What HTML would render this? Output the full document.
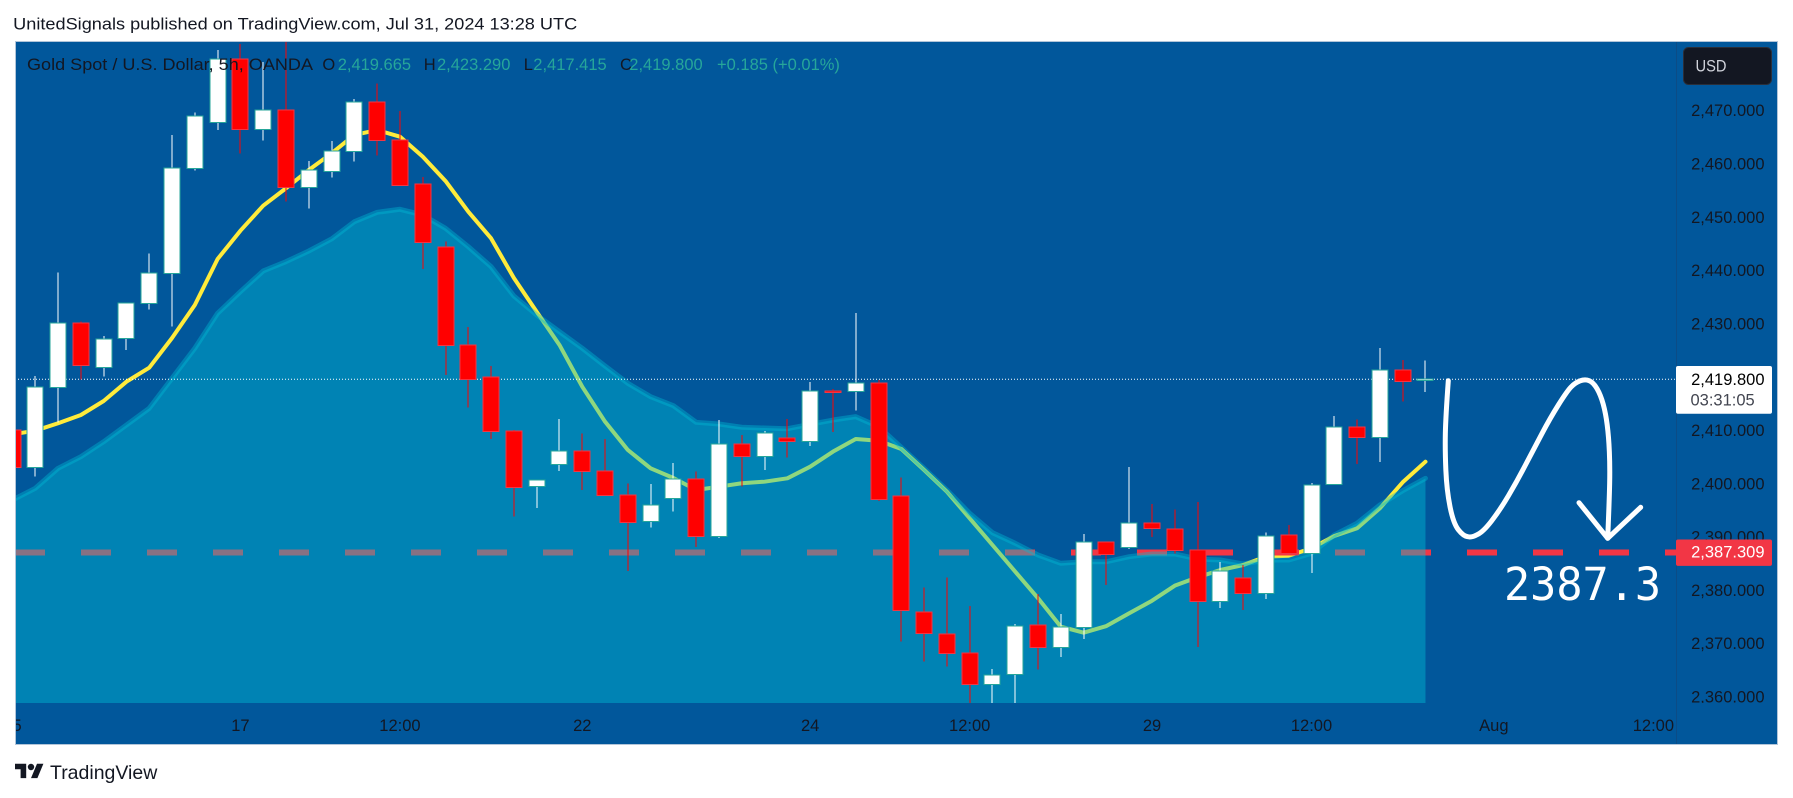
<!DOCTYPE html>
<html lang="en">
<head>
<meta charset="utf-8">
<title>Gold Spot / U.S. Dollar chart</title>
<style>
html,body{margin:0;padding:0;background:#fff;width:1793px;height:798px;overflow:hidden}
svg{display:block;font-family:"Liberation Sans",sans-serif}
</style>
</head>
<body>
<svg id="chart" xmlns="http://www.w3.org/2000/svg" width="1793" height="798" viewBox="0 0 1793 798">
  <defs>
    <clipPath id="pane-clip"><rect x="16" y="42" width="1660" height="661"/></clipPath>
    <clipPath id="time-clip"><rect x="16" y="703" width="1660" height="41"/></clipPath>
    <clipPath id="price-clip"><rect x="1677" y="42" width="100" height="661"/></clipPath>
  </defs>
  <text x="13.2" y="29.3" font-size="16.5" textLength="564" lengthAdjust="spacingAndGlyphs" fill="#131722">UnitedSignals published on TradingView.com, Jul 31, 2024 13:28 UTC</text>
  <rect x="15.5" y="41.5" width="1762" height="703" fill="#01579b" stroke="#b2c5d9" stroke-width="1"/>
  <g id="pane" clip-path="url(#pane-clip)"></g>
  <line x1="1676.5" y1="42" x2="1676.5" y2="744" stroke="#0c4c86" stroke-width="1"/>
  <g id="time-axis" clip-path="url(#time-clip)"></g>
  <g id="price-axis" clip-path="url(#price-clip)"></g>

  <g fill="none" stroke="#fff" stroke-width="5" stroke-linecap="round" stroke-linejoin="round">
    <path d="M1448.3 380.7 Q1445.7 416.7 1445.35 433.35 Q1445 450 1445.85 470 Q1446.7 490 1450 506.65 Q1453.3 523.3 1458.3 529.65 Q1463.3 536 1467.5 536.65 Q1471.7 537.8 1477.5 534.5 Q1483.3 531.7 1491.65 520.85 Q1500 510 1508.35 495.85 Q1516.7 481.7 1525 465.85 Q1533.3 450 1541.65 434.15 Q1550 418.3 1558.35 405 Q1566.7 391.7 1570.85 387.2 Q1575 382.7 1580 380.85 Q1585 379 1589.15 380.65 Q1593.3 382.3 1597 388.65 Q1600.7 395 1603.2 404.15 Q1605.7 413.3 1607.2 425 Q1608.7 436.7 1609.35 451.7 Q1610 466.7 1609.65 483.35 Q1609.3 500 1607.7 538.3"/>
    <path d="M1579 502.7 L1607.7 538.3 L1640.7 507.3"/>
  </g>
  <text x="1504" y="600" font-size="45" textLength="157" lengthAdjust="spacingAndGlyphs" fill="#fff" style='font-family:"DejaVu Sans Mono",monospace'>2387.3</text>

  <g font-size="16.5">
    <text x="27" y="70" textLength="286" lengthAdjust="spacingAndGlyphs" fill="#131722">Gold Spot / U.S. Dollar, 5h, OANDA</text>
    <text x="322.4" y="70" fill="#131722">O</text>
    <text x="337.7" y="70" fill="#26a69a">2,419.665</text>
    <text x="423.7" y="70" fill="#131722">H</text>
    <text x="437" y="70" fill="#26a69a">2,423.290</text>
    <text x="523.7" y="70" fill="#131722">L</text>
    <text x="533.3" y="70" fill="#26a69a">2,417.415</text>
    <text x="620" y="70" fill="#131722">C</text>
    <text x="629.3" y="70" fill="#26a69a">2,419.800</text>
    <text x="717" y="70" fill="#26a69a">+0.185 (+0.01%)</text>
  </g>

  <g>
    <rect x="1683.5" y="47.5" width="88" height="37" rx="5" fill="#131722" stroke="#2a2e39"/>
    <text x="1695.5" y="71.5" font-size="16.5" textLength="31" lengthAdjust="spacingAndGlyphs" fill="#d1d4dc">USD</text>
  </g>

  <g id="price-labels"></g>

  <g>
    <path transform="translate(15 760.5) scale(.8)" fill="#131722" d="M14 22H7V11H0V4h14v18zM28 22h-8l7.5-18h8L28 22z"/>
    <circle cx="31" cy="767" r="3.2" fill="#131722"/>
    <text x="50" y="779" font-size="19.5" fill="#131722">TradingView</text>
  </g>
</svg>

<script>
const candleOpen = [2410.29,2403.29,2418.30,2430.31,2422.05,2427.49,2434.06,2439.69,2459.39,2468.02,2479.84,2466.71,2470.27,2455.82,2458.82,2462.58,2471.77,2464.64,2456.39,2444.57,2426.18,2420.18,2410.05,2399.73,2403.85,2406.29,2402.54,2398.04,2393.16,2397.47,2401.04,2390.35,2407.61,2405.35,2408.73,2408.17,2417.61,2417.55,2419.05,2397.85,2376.09,2371.96,2368.40,2362.58,2364.45,2373.64,2369.52,2373.27,2389.22,2388.28,2392.79,2391.66,2387.72,2378.15,2382.46,2379.65,2390.53,2387.15,2400.10,2410.80,2409.03,2421.49,2419.665];
const candleClose = [2403.29,2418.30,2430.31,2422.43,2427.36,2434.06,2439.69,2459.39,2469.15,2479.84,2466.71,2470.27,2455.82,2459.01,2462.58,2471.77,2464.64,2456.31,2445.51,2426.18,2419.95,2410.05,2399.65,2400.85,2406.40,2402.54,2398.04,2392.97,2396.27,2401.04,2390.35,2407.61,2405.35,2409.67,2408.17,2417.55,2417.48,2419.05,2397.29,2376.46,2372.15,2368.40,2362.58,2364.27,2373.46,2369.52,2373.27,2389.22,2386.97,2392.79,2391.85,2387.72,2378.15,2383.78,2379.65,2390.35,2387.15,2399.91,2410.80,2409.03,2421.49,2419.54,2419.80];
const candleHigh = [2410.29,2420.42,2439.88,2430.61,2427.93,2434.06,2443.44,2465.64,2469.90,2481.58,2482.71,2479.33,2483.14,2460.76,2464.51,2472.39,2475.26,2470.14,2457.76,2445.62,2429.57,2422.30,2410.29,2400.85,2412.35,2409.67,2408.60,2400.29,2400.16,2404.10,2402.54,2412.16,2409.35,2410.10,2412.35,2419.30,2417.98,2432.24,2419.67,2401.34,2380.78,2382.65,2377.27,2365.45,2373.89,2379.52,2375.77,2390.78,2389.22,2403.35,2396.41,2395.41,2396.78,2385.52,2384.96,2391.09,2392.46,2400.31,2412.92,2412.30,2425.68,2423.43,2423.29];
const candleLow = [2403.29,2401.53,2411.66,2419.80,2420.29,2425.30,2432.93,2429.67,2458.94,2466.57,2462.20,2464.57,2453.12,2451.81,2457.62,2460.63,2461.75,2456.12,2440.50,2420.61,2414.47,2408.64,2394.02,2395.65,2402.60,2399.03,2398.04,2383.83,2391.96,2394.96,2388.34,2390.02,2399.65,2402.78,2405.09,2407.29,2409.91,2413.91,2396.97,2370.57,2366.82,2365.88,2358.70,2358.70,2358.70,2365.32,2367.70,2371.08,2381.21,2387.96,2390.21,2387.08,2369.58,2376.89,2376.52,2378.58,2387.15,2383.46,2400.10,2403.91,2404.29,2415.60,2417.415];
const fastAverage = [2409.48,2410.16,2411.55,2413.10,2415.73,2419.35,2421.98,2427.55,2433.74,2442.37,2447.68,2452.37,2455.64,2459.07,2462.20,2465.64,2466.57,2465.32,2461.57,2457.01,2451.25,2446.25,2438.81,2432.48,2426.24,2418.41,2411.85,2406.54,2403.10,2401.28,2399.03,2399.65,2400.29,2400.59,2401.22,2403.40,2406.22,2408.60,2408.28,2406.72,2402.78,2398.71,2393.72,2388.71,2383.70,2378.71,2373.38,2372.26,2373.51,2375.90,2378.26,2381.08,2382.65,2384.02,2384.96,2386.52,2386.70,2388.09,2390.40,2391.85,2395.60,2400.48,2404.34];
const slowAverage = [2397.15,2399.35,2403.10,2405.28,2408.09,2411.23,2414.36,2419.99,2425.62,2432.19,2436.24,2440.12,2441.87,2443.87,2446.13,2449.37,2451.13,2451.70,2450.63,2448.13,2444.68,2440.93,2435.43,2431.87,2428.73,2425.62,2422.30,2419.05,2416.54,2414.85,2411.73,2411.42,2410.80,2410.66,2410.53,2411.36,2412.16,2412.79,2410.91,2407.04,2403.10,2399.03,2394.66,2391.02,2389.03,2386.84,2385.28,2385.58,2385.58,2386.52,2387.03,2387.03,2386.09,2385.90,2385.15,2385.90,2385.90,2387.15,2390.59,2392.79,2396.22,2398.90,2401.22];
const priceTicks = [2470,2460,2450,2440,2430,2410,2400,2390,2380,2370,2360];
const timeTickBars = [0,10,17,25,35,42,50,57,65,72];
const timeTickLabels = ["15","17","12:00","22","24","12:00","29","12:00","Aug","12:00"];
const lastPrice = 2419.8;
const targetPrice = 2387.309;
const countdownText = "03:31:05";

const NS = "http://www.w3.org/2000/svg";
const paneBottom = 703;
const axisFont = 16.5;
function xOf(i){ return 12.5 + 22.79 * i; }
function yOf(p){ return 379.3 + (2419.8 - p) * 5.33; }
function make(tag, attrs, parent){
  const el = document.createElementNS(NS, tag);
  for (const k in attrs) el.setAttribute(k, attrs[k]);
  parent.appendChild(el);
  return el;
}
function formatPrice(p){
  const s = p.toFixed(3);
  return s.charAt(0) + "," + s.slice(1);
}
function linePath(values){
  return values.map(function(v, i){ return (i ? "L" : "M") + xOf(i).toFixed(2) + " " + yOf(v).toFixed(2); }).join(" ");
}

const pane = document.getElementById("pane");

const fastLine = make("path", {d: linePath(fastAverage), fill: "none", stroke: "#ffeb3b", "stroke-width": 4, "stroke-linejoin": "round", "stroke-linecap": "round"}, pane);



const targetLine = make("line", {x1: 15, x2: 1676, y1: yOf(targetPrice), y2: yOf(targetPrice), stroke: "#f23645", "stroke-width": 6, "stroke-dasharray": "30 36"}, pane);



const areaFill = make("path", {d: linePath(slowAverage) + " L" + xOf(slowAverage.length - 1).toFixed(2) + " " + paneBottom + " L" + xOf(0).toFixed(2) + " " + paneBottom + " Z", fill: "rgba(0,188,212,.44)"}, pane);



const areaLine = make("path", {d: linePath(slowAverage), fill: "none", stroke: "rgba(0,188,212,.4)", "stroke-width": 5, "stroke-linejoin": "round", "stroke-linecap": "round"}, pane);



const lastLine = make("line", {x1: 15, x2: 1676, y1: yOf(lastPrice), y2: yOf(lastPrice), stroke: "#fff", "stroke-width": 1, "stroke-dasharray": "1 2"}, pane);



candleOpen.forEach(function(open, i){
  const close = candleClose[i];
  const up = close >= open;
  const cx = Math.round(xOf(i));
  const g = make("g", {"shape-rendering": "crispEdges"}, pane);
  
  
  const wick = make("rect", {x: cx - 0.5, y: yOf(candleHigh[i]), width: 1, height: Math.max(1, yOf(candleLow[i]) - yOf(candleHigh[i])), fill: up ? "#ffffff" : "#ff0000"}, g);
  
  
  const top = Math.round(yOf(Math.max(open, close))) + 0.5;
  const bottom = Math.round(yOf(Math.min(open, close))) + 0.5;
  const body = make("rect", {x: cx - 8, y: top - 0.5, width: 16, height: Math.max(1, bottom - top) + 0.5, fill: up ? "#ffffff" : "#ff0000", stroke: up ? "#26a69a" : "#f23645", "stroke-width": 1}, g);
  
  
});

const timeAxis = document.getElementById("time-axis");
timeTickLabels.forEach(function(label, i){
  const t = make("text", {x: xOf(timeTickBars[i]), y: 731, "text-anchor": "middle", "font-size": axisFont, fill: "#131722"}, timeAxis);
  
  
  t.textContent = label;
});

const priceAxis = document.getElementById("price-axis");
priceTicks.forEach(function(p){
  const t = make("text", {x: 1764.5, y: yOf(p) + 4.5, "text-anchor": "end", "font-size": axisFont, fill: "#131722"}, priceAxis);
  
  
  t.textContent = formatPrice(p);
});

const labels = document.getElementById("price-labels");
const lastBox = make("rect", {x: 1676, y: yOf(lastPrice) - 13.3, width: 96, height: 47.7, rx: 2, fill: "#ffffff"}, labels);


const lastText = make("text", {x: 1764.5, y: yOf(lastPrice) + 5.7, "text-anchor": "end", "font-size": axisFont, fill: "#000000"}, labels);


lastText.textContent = formatPrice(lastPrice);
const timer = make("text", {x: 1690.5, y: yOf(lastPrice) + 26.4, "font-size": axisFont, fill: "#434651"}, labels);


timer.textContent = countdownText;
const targetBox = make("rect", {x: 1676, y: yOf(targetPrice) - 13, width: 96, height: 26.4, rx: 2, fill: "#f23645"}, labels);


const targetText = make("text", {x: 1764.5, y: yOf(targetPrice) + 5.2, "text-anchor": "end", "font-size": axisFont, fill: "#ffffff"}, labels);


targetText.textContent = formatPrice(targetPrice);
</script>
</body>
</html>
